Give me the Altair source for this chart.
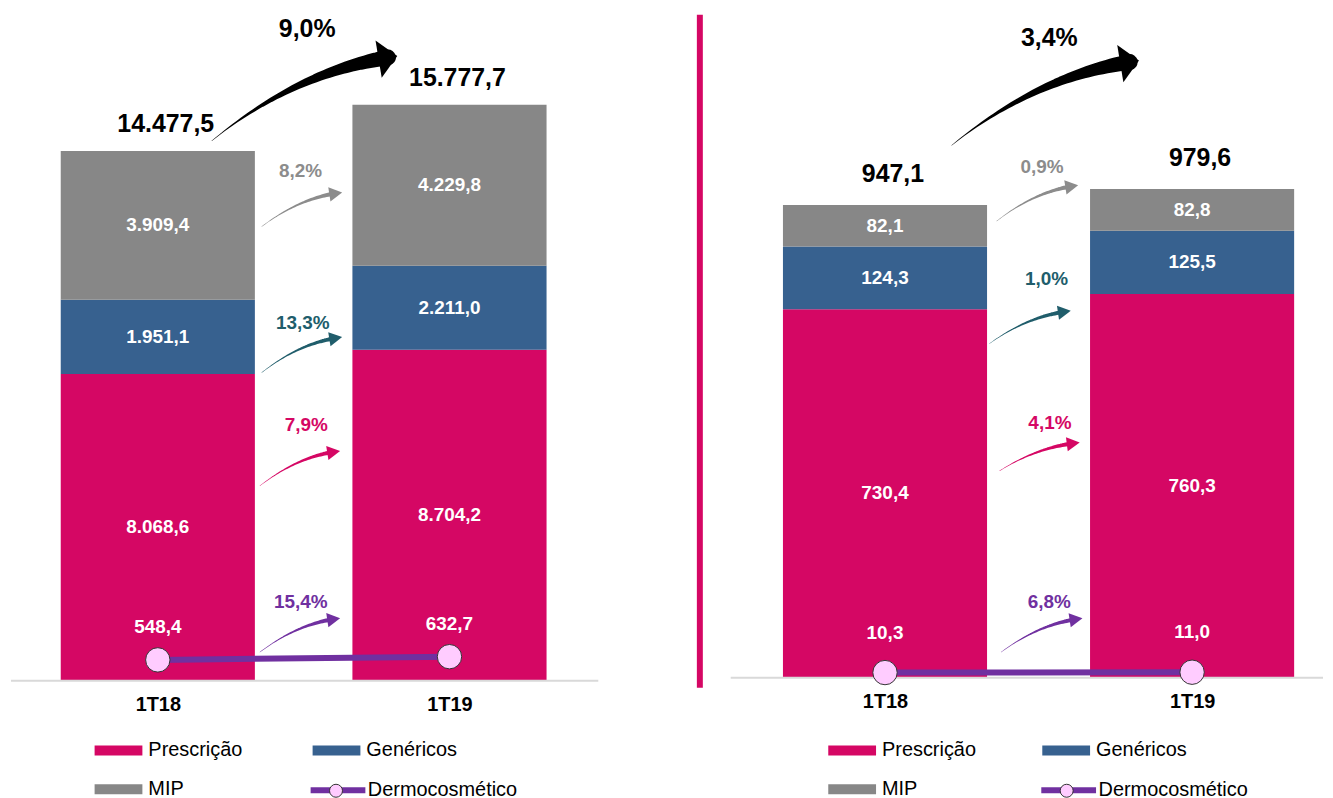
import math
import altair as alt
import pandas as pd

# ---------------- data ----------------
periods = ["1T18", "1T19"]
series = ["Prescrição", "Genéricos", "MIP"]
dermo_name = "Dermocosmético"
dermo_marker = "Dermocosmético (marcador)"

left_prescricao = [8068.6, 8704.2]
left_genericos = [1951.1, 2211.0]
left_mip = [3909.4, 4229.8]
left_dermo = [548.4, 632.7]

right_prescricao = [730.4, 760.3]
right_genericos = [124.3, 125.5]
right_mip = [82.1, 82.8]
right_dermo = [10.3, 11.0]

# growth-arrow annotation anchors, in data units (x: period index, y: value)
# order: Total, MIP, Genéricos, Prescrição, Dermocosmético
left_tail_x = [0.185, 0.356, 0.356, 0.350, 0.350]
left_tail_y = [14199, 11942, 8102, 5126, 753]
left_tip_x = [0.821, 0.632, 0.632, 0.625, 0.625]
left_tip_y = [16430, 12843, 9037, 6045, 1646]
left_lab_x = [0.512, 0.489, 0.497, 0.509, 0.490]
left_lab_y = [17150, 13394, 9404, 6719, 2066]

right_tail_x = [0.217, 0.364, 0.340, 0.373, 0.378]
right_tail_y = [1055, 905, 662, 410, 50.7]
right_tip_x = [0.827, 0.629, 0.605, 0.634, 0.643]
right_tip_y = [1223, 975.7, 727, 466, 117.8]
right_lab_x = [0.535, 0.511, 0.526, 0.537, 0.535]
right_lab_y = [1268, 1011.8, 790, 505.5, 150.5]

# ---------------- styles ----------------
FONT = "Liberation Sans"
PINK = "#D50764"
BLUE = "#37618F"
GRAY = "#878787"
PURPLE = "#7030A0"
TEAL = "#205D6B"
GRAYL = "#8C8C8C"
BLACK = "#000000"
arrow_colors = [BLACK, GRAYL, TEAL, PINK, PURPLE]
arrow_font = [25, 19, 19, 19, 19]
arrow_wend = [16, 4.5, 4.5, 4.5, 4.5]
arrow_head = [19, 13, 13, 13, 13]
arrow_head_ratio = [2.0, 1.1, 1.1, 1.1, 1.1]


def fmt(v):
    s = f"{v:,.1f}"
    return s.replace(",", "X").replace(".", ",").replace("X", ".")


def pct(a, b):
    return f"{(b / a - 1) * 100:.1f}%".replace(".", ",")


def build_panel(pres, gen, mip, dermo, tx, ty, px, py, lx, ly, g):
    xs = alt.Scale(domain=g["xdom"], nice=False, zero=False)
    ys = alt.Scale(domain=g["ydom"], nice=False, zero=False)
    pxx = g["width"] / (g["xdom"][1] - g["xdom"][0])
    pxy = g["height"] / (g["ydom"][1] - g["ydom"][0])
    label_expr = "[" + ",".join(f"'{p}'" for p in periods) + "][datum.value]"
    xaxis = alt.Axis(values=list(range(len(periods))), labelExpr=label_expr, domain=False,
                     ticks=False, grid=False, title=None, labelFont=FONT, labelFontSize=20,
                     labelFontWeight="bold", labelColor="#000000", labelPadding=24,
                     labelBaseline="middle")

    def X(f):
        return alt.X(f, type="quantitative", scale=xs, axis=xaxis)

    def Y(f):
        return alt.Y(f, type="quantitative", scale=ys, axis=None)

    hw = g["hw"]
    rows, tots, drows = [], [], []
    for i, p in enumerate(periods):
        base = 0.0
        for s, vals in zip(series, [pres, gen, mip]):
            v = vals[i]
            rows.append(dict(i=i, x0=i - hw, x1=i + hw, y0=base, y1=base + v,
                             mid=base + v / 2, series=s, label=fmt(v)))
            base += v
        tots.append(dict(i=i, top=base, label=fmt(base + dermo[i])))
        drows.append(dict(i=i, v=dermo[i], name=dermo_name, marker=dermo_marker,
                          label=fmt(dermo[i])))
    bars_df = pd.DataFrame(rows)
    tot_df = pd.DataFrame(tots)
    d_df = pd.DataFrame(drows)

    bars = alt.Chart(bars_df).mark_rect().encode(
        x=X("x0"), x2="x1", y=Y("y0"), y2="y1",
        color=alt.Color("series:N", scale=alt.Scale(domain=series, range=[PINK, BLUE, GRAY]),
                        legend=alt.Legend(orient="none", legendX=g["leg1"][0], legendY=g["leg1"][1],
                                          columns=2, direction="horizontal", title=None,
                                          symbolType="M-4.8,-1L4.8,-1L4.8,1L-4.8,1Z",
                                          symbolSize=100, symbolStrokeWidth=0,
                                          labelFont=FONT, labelFontSize=20, labelColor="#000000",
                                          columnPadding=g["colpad"], rowPadding=19,
                                          labelOffset=20, symbolOffset=19, padding=0)))
    seg_text = alt.Chart(bars_df).mark_text(font=FONT, fontSize=19, fontWeight="bold",
                                            color="white").encode(
        x=X("i"), y=Y("mid"), text="label:N")
    tot_text = alt.Chart(tot_df).mark_text(font=FONT, fontSize=25, fontWeight="bold",
                                           color="black", dy=g["tot_dy"], dx=g["tot_dx"]).encode(
        x=X("i"), y=Y("top"), text="label:N")

    base_df = pd.DataFrame([dict(x0=g["axis"][0], x1=g["axis"][1], y=0)])
    baseline = alt.Chart(base_df).mark_rule(color="#D9D9D9", strokeWidth=2).encode(
        x=X("x0"), x2="x1", y=Y("y"))

    line = alt.Chart(d_df).mark_line(strokeWidth=6).encode(
        x=X("i"), y=Y("v"),
        stroke=alt.Stroke("name:N", scale=alt.Scale(domain=[dermo_name], range=[PURPLE]),
                          legend=alt.Legend(orient="none", legendX=g["leg2"][0], legendY=g["leg2"][1],
                                            title=None, symbolType="M-5.5,0L5.5,0", symbolSize=100,
                                            symbolStrokeWidth=6, symbolOffset=19.5,
                                            labelFont=FONT, labelFontSize=20,
                                            labelColor="#000000", labelOffset=20, padding=0)))
    pts = alt.Chart(d_df).mark_point(filled=True, size=600, stroke="#333333", strokeWidth=1,
                                     opacity=1).encode(
        x=X("i"), y=Y("v"),
        fill=alt.Fill("marker:N", scale=alt.Scale(domain=[dermo_marker], range=["#FFCCFF"]),
                      legend=alt.Legend(orient="none", legendX=g["leg3"][0], legendY=g["leg3"][1],
                                        title=None, symbolType="circle", symbolSize=170,
                                        symbolStrokeColor="#333333", symbolStrokeWidth=1,
                                        symbolOpacity=1, labelExpr="''", padding=0)))
    d_text = alt.Chart(d_df).mark_text(font=FONT, fontSize=19, fontWeight="bold", color="white",
                                       dy=g["dermo_dy"]).encode(x=X("i"), y=Y("v"), text="label:N")

    layers = [bars, baseline]
    if g.get("divider"):
        dv = g["divider"]
        div_df = pd.DataFrame([dict(x=dv[0], y0=dv[1] - 4 / pxy, y1=dv[2])])
        layers.append(alt.Chart(div_df).mark_rule(color=PINK, strokeWidth=6).encode(
            x=X("x"), y=Y("y0"), y2="y1"))
    layers += [line, pts, seg_text, tot_text, d_text]

    totals = [pres[i] + gen[i] + mip[i] + dermo[i] for i in range(2)]
    growth = [pct(totals[0], totals[1]), pct(mip[0], mip[1]), pct(gen[0], gen[1]),
              pct(pres[0], pres[1]), pct(dermo[0], dermo[1])]

    for k in range(5):
        x0, y0, x2, y2 = tx[k], ty[k], px[k], py[k]
        cx, cy = x0 + 0.45 * (x2 - x0), y0 + 0.8 * (y2 - y0)
        sx = (x2 - cx) * pxx
        sy = -(y2 - cy) * pxy
        n = math.hypot(sx, sy)
        ux, uy = sx / n, sy / n
        L = arrow_head[k]
        hx = x2 - ux * L / 2 / pxx
        hy = y2 + uy * L / 2 / pxy
        pts_rows = []
        N = 40
        for j in range(N + 1):
            t = j / N
            bx = (1 - t) ** 2 * x0 + 2 * (1 - t) * t * cx + t ** 2 * hx
            by = (1 - t) ** 2 * y0 + 2 * (1 - t) * t * cy + t ** 2 * hy
            w = 0.4 + (arrow_wend[k] - 0.4) * t ** 1.3
            pts_rows.append(dict(x=bx, y=by, w=w, t=t))
        tr_df = pd.DataFrame(pts_rows)
        layers.append(alt.Chart(tr_df).mark_trail(color=arrow_colors[k]).encode(
            x=X("x"), y=Y("y"), size=alt.Size("w:Q", scale=None, legend=None), order="t:Q"))
        ang = math.degrees(math.atan2(uy, ux)) % 360
        r = arrow_head_ratio[k]
        head_df = pd.DataFrame([dict(x=hx, y=hy, a=ang)])
        layers.append(alt.Chart(head_df).mark_point(shape=f"M-1,-{r}L1,0L-1,{r}Z", filled=True,
                                                     color=arrow_colors[k], opacity=1,
                                                     size=L * L).encode(
            x=X("x"), y=Y("y"), angle=alt.Angle("a:Q", scale=None)))
        lab_df = pd.DataFrame([dict(x=lx[k], y=ly[k], text=growth[k])])
        layers.append(alt.Chart(lab_df).mark_text(font=FONT, fontSize=arrow_font[k],
                                                   fontWeight="bold", color=arrow_colors[k]).encode(
            x=X("x"), y=Y("y"), text="text:N"))

    return alt.layer(*layers).properties(width=g["width"], height=g["height"])


left_geom = dict(width=689, height=673, xdom=[-0.5102, 1.8413], ydom=[0, 17618], hw=0.3328,
                 axis=[-0.5034, 1.5102], tot_dy=-27, tot_dx=8, dermo_dy=-33,
                 leg1=[81, 733], leg2=[301, 773], leg3=[321, 776], colpad=65)
right_geom = dict(width=628, height=670, xdom=[-0.6094, 1.4263], ydom=[0, 1321.5], hw=0.3323,
                  axis=[-0.5024, 1.4263], tot_dy=-31, tot_dx=8, dermo_dy=-40,
                  leg1=[126, 733], leg2=[343, 773], leg3=[363, 776], colpad=61,
                  divider=[-0.6029, 1321.5, -20])

left = build_panel(left_prescricao, left_genericos, left_mip, left_dermo,
                   left_tail_x, left_tail_y, left_tip_x, left_tip_y, left_lab_x, left_lab_y, left_geom)
right = build_panel(right_prescricao, right_genericos, right_mip, right_dermo,
                    right_tail_x, right_tail_y, right_tip_x, right_tip_y, right_lab_x, right_lab_y,
                    right_geom)

chart = alt.hconcat(left, right, spacing=0).resolve_scale(
    x="independent", y="independent", color="independent", stroke="independent",
    fill="independent", size="independent", angle="independent"
).resolve_legend(color="independent", stroke="independent", fill="independent").properties(
    padding=0, background="white"
).configure_view(stroke="transparent")

chart.save("out.html", embed_options={"renderer": "svg", "actions": False})
